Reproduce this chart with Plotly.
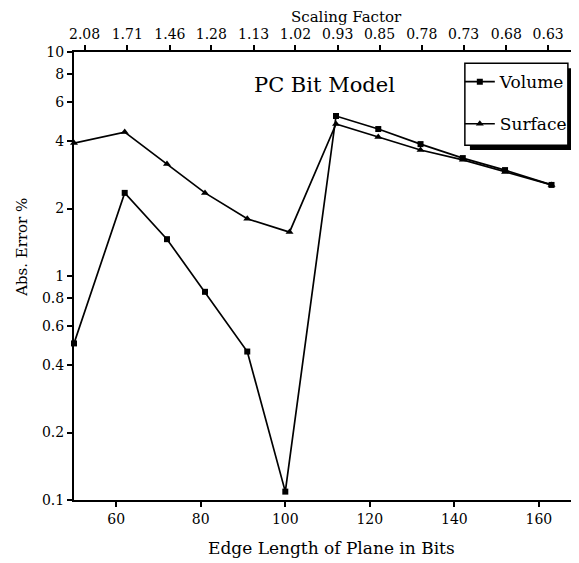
import plotly.graph_objects as go

edge_length = [50, 62, 72, 81, 91, 100, 112, 122, 132, 142, 152, 163]
edge_length_surface = [50, 62, 72, 81, 91, 101, 112, 122, 132, 142, 152, 163]
volume_err = [0.50, 2.35, 1.46, 0.85, 0.46, 0.109, 5.18, 4.53, 3.88, 3.36, 2.97, 2.55]
surface_err = [3.92, 4.39, 3.16, 2.35, 1.80, 1.57, 4.77, 4.17, 3.65, 3.30, 2.91, 2.55]

x_ticks = [60, 80, 100, 120, 140, 160]
y_ticks = [0.1, 0.2, 0.4, 0.6, 0.8, 1, 2, 4, 6, 8, 10]
y_tick_labels = ["0.1", "0.2", "0.4", "0.6", "0.8", "1", "2", "4", "6", "8", "10"]
scaling_pos = [52.5, 62.6, 72.7, 82.5, 92.5, 102.4, 112.4, 122.3, 132.3, 142.2, 152.3, 162.2]
scaling_labels = ["2.08", "1.71", "1.46", "1.28", "1.13", "1.02", "0.93", "0.85", "0.78", "0.73", "0.68", "0.63"]

FONT = "DejaVu Serif"

fig = go.Figure()
fig.add_trace(go.Scatter(
    x=edge_length, y=volume_err, name="Volume", mode="lines+markers",
    line=dict(color="black", width=1.7),
    marker=dict(symbol="square", size=6, color="black"),
    legendgroup="v", cliponaxis=False))
fig.add_trace(go.Scatter(
    x=edge_length_surface, y=surface_err, name="Surface", mode="lines+markers",
    line=dict(color="black", width=1.7),
    marker=dict(symbol="triangle-up", size=7, color="black"),
    legendgroup="s", cliponaxis=False))
# empty trace so the top (scaling factor) axis is drawn
fig.add_trace(go.Scatter(x=[], y=[], xaxis="x2", showlegend=False, hoverinfo="skip"))

tickfont = dict(family=FONT, size=14, color="black")

fig.update_layout(
    width=571, height=555,
    margin=dict(l=66, r=0, t=44, b=63),
    paper_bgcolor="white", plot_bgcolor="white",
    font=dict(family=FONT, size=14, color="black"),
    showlegend=True,
    legend=dict(x=0.764, y=0.973, xanchor="left", yanchor="top",
                bgcolor="rgba(0,0,0,0)", borderwidth=0,
                font=dict(family=FONT, size=17), tracegroupgap=17,
                itemwidth=30),
    xaxis=dict(range=[50, 169.5], tickvals=x_ticks, ticks="outside", ticklen=5,
               tickwidth=1.5, tickcolor="black", showline=True, linecolor="black",
               linewidth=2, showgrid=False, zeroline=False, tickfont=tickfont),
    xaxis2=dict(range=[50, 169.5], overlaying="x", side="top", tickvals=scaling_pos,
                ticktext=scaling_labels, ticks="outside", ticklen=5, tickwidth=1.5,
                tickcolor="black", showline=True, linecolor="black", linewidth=2,
                showgrid=False, zeroline=False, tickfont=tickfont),
    yaxis=dict(type="log", range=[-1, 1], tickvals=y_ticks, ticktext=y_tick_labels,
               ticks="outside", ticklen=5, tickwidth=1.5, tickcolor="black",
               showline=True, linecolor="black", linewidth=2, showgrid=False,
               zeroline=False, tickfont=tickfont),
)

fig.add_annotation(text="PC Bit Model", x=0.497, y=0.926, xref="paper", yref="paper",
                   xanchor="center", yanchor="middle",
                   showarrow=False, font=dict(family=FONT, size=21))
fig.add_annotation(text="Abs. Error %", x=-0.103, y=0.565, xref="paper", yref="paper",
                   xanchor="center", yanchor="middle",
                   showarrow=False, textangle=-90, font=dict(family=FONT, size=15))
fig.add_annotation(text="Edge Length of Plane in Bits", x=0.509, y=-0.107,
                   xref="paper", yref="paper", xanchor="center", yanchor="middle",
                   showarrow=False, font=dict(family=FONT, size=17))
fig.add_annotation(text="Scaling Factor", x=0.539, y=1.079, xref="paper", yref="paper",
                   xanchor="center", yanchor="middle",
                   showarrow=False, font=dict(family=FONT, size=15))

# legend frame with drop shadow
fig.add_shape(type="rect", xref="paper", yref="paper", x0=0.784, x1=0.990, y0=0.781,
              y1=0.964, fillcolor="black", line=dict(width=0), layer="above")
fig.add_shape(type="rect", xref="paper", yref="paper", x0=0.774, x1=0.978, y0=0.792,
              y1=0.975, fillcolor="white", line=dict(color="black", width=1.5),
              layer="above")

fig.write_html("out.html")
